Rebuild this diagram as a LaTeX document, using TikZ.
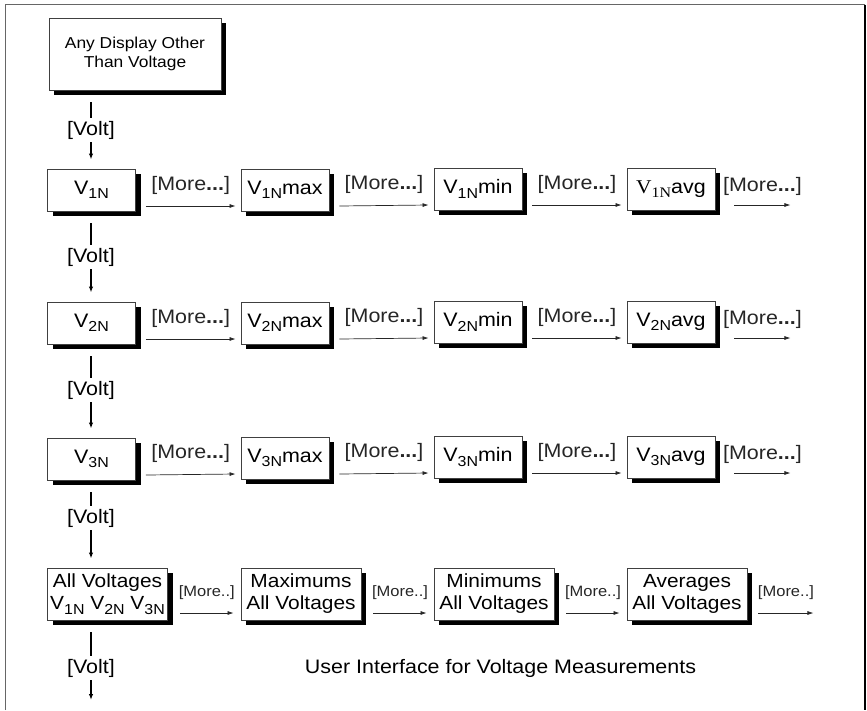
\documentclass[tikz,border=0pt]{standalone}
\usepackage{fontspec}
\setmainfont{Liberation Sans}[FakeStretch=1.1]
\newfontfamily\serifv{Liberation Serif}[FakeStretch=1.1]
\usetikzlibrary{arrows.meta,shadows,calc}
\newcommand\lowsub[1]{\raisebox{-4.5pt}{\fontsize{14.5}{14.5}\selectfont #1}}
\tikzset{
  box/.style={draw=black!75, line width=0.9pt, fill=white, inner sep=0pt,
    minimum width=88pt, minimum height=42pt,
    font=\fontsize{19.5}{21}\selectfont,
    drop shadow={shadow xshift=5pt, shadow yshift=-5pt, fill=black, opacity=1}},
  bigbox/.style={box, minimum width=120pt, minimum height=52pt, align=center,
    font=\fontsize{19}{22}\selectfont},
  topbox/.style={box, minimum width=172pt, minimum height=72pt, align=center,
    font=\fontsize{15.8}{19}\selectfont},
  arr/.style={-{Latex[length=6pt,width=4pt]}, line width=0.7pt, black!85},
  vline/.style={line width=1.6pt},
  varr/.style={vline, -{Latex[length=6pt,width=4.5pt]}},
  lbl/.style={font=\fontsize{19.5}{21}\selectfont, inner sep=0pt},
  slbl/.style={font=\fontsize{15}{17}\selectfont, inner sep=0pt},
}
\newcommand\more{[More\textbf{...}]}
\begin{document}
\begin{tikzpicture}[x=1pt,y=-1pt]
\useasboundingbox (0,0) rectangle (867,710);
% frame
\draw[black!60, line width=1.2pt] (5.5,710) -- (5.5,4.5) -- (865,4.5);
\draw[black, line width=1.2pt] (865,4.5) -- (865,710);

% top box
\node[topbox] (top) at (135,54) {Any Display Other\\Than Voltage};

% row 1
\node[box] (a1) at (91.5,190) {V\lowsub{1N}};
\node[box] (a2) at (285,190) {V\lowsub{1N}max};
\node[box] (a3) at (478,189) {V\lowsub{1N}min};
\node[box] (a4) at (671,189) {{\serifv V\lowsub{1N}}avg};
% row 2
\node[box] (b1) at (91.5,323) {V\lowsub{2N}};
\node[box] (b2) at (285,323) {V\lowsub{2N}max};
\node[box] (b3) at (478,322) {V\lowsub{2N}min};
\node[box] (b4) at (671,322) {V\lowsub{2N}avg};
% row 3
\node[box] (c1) at (91.5,459) {V\lowsub{3N}};
\node[box] (c2) at (285,458) {V\lowsub{3N}max};
\node[box] (c3) at (478,457) {V\lowsub{3N}min};
\node[box] (c4) at (671,457) {V\lowsub{3N}avg};
% row 4
\node[bigbox] (d1) at (107.5,594) {All Voltages\\V\lowsub{1N} V\lowsub{2N} V\lowsub{3N}};
\node[bigbox] (d2) at (301,594) {Maximums\\All Voltages};
\node[bigbox] (d3) at (494,594) {Minimums\\All Voltages};
\node[bigbox] (d4) at (687,594) {Averages\\All Voltages};

% horizontal arrows rows 1-3
\foreach \r in {a,b,c}{
  \foreach \i/\j in {1/2,2/3,3/4}{
    \draw[arr] ([shift={(10,16)}]\r\i.east) -- ([shift={(-5,16)}]\r\j.west)
      node[lbl, midway, yshift=21pt] {\more};
  }
  \coordinate (\r5) at ([shift={(75,16)}]\r4.east);
  \draw[arr] ([shift={(19,16)}]\r4.east) -- (\r5)
    node[lbl, midway, yshift=19pt] {\more};
}
% row 4 arrows
\foreach \i/\j in {1/2,2/3,3/4}{
  \draw[arr] ([shift={(12,19)}]d\i.east) -- ([shift={(-7,19)}]d\j.west)
    node[slbl, midway, yshift=20pt] {[More..]};
}
\coordinate (d5) at ([shift={(66,19)}]d4.east);
\draw[arr] ([shift={(11,19)}]d4.east) -- (d5)
  node[slbl, midway, yshift=20pt] {[More..]};

% vertical [Volt] connections
\node[lbl] (v1) at (91,130) {[Volt]};
\node[lbl] (v2) at (91,257) {[Volt]};
\node[lbl] (v3) at (91,390) {[Volt]};
\node[lbl] (v4) at (91,518) {[Volt]};
\node[lbl] (v5) at (91,668) {[Volt]};
\coordinate (vend) at (91,700);
\foreach \v/\s/\t in {v1/top/a1, v2/a1/b1, v3/b1/c1, v4/c1/d1}{
  \draw[vline, shorten <=12pt, shorten >=3pt] (\v |- \s.south) -- (\v.north);
  \draw[varr, shorten <=3pt, shorten >=9pt] (\v.south) -- (\v |- \t.north);
}
\draw[vline, shorten <=12pt, shorten >=3pt] (v5 |- d1.south) -- (v5.north);
\draw[varr, shorten <=3pt] (v5.south) -- (vend);

% caption
\node[anchor=base, inner sep=0pt, font=\fontsize{19.5}{21}\selectfont] (cap) at (500.5,673)
  {User Interface for Voltage Measurements};
\end{tikzpicture}
\end{document}
